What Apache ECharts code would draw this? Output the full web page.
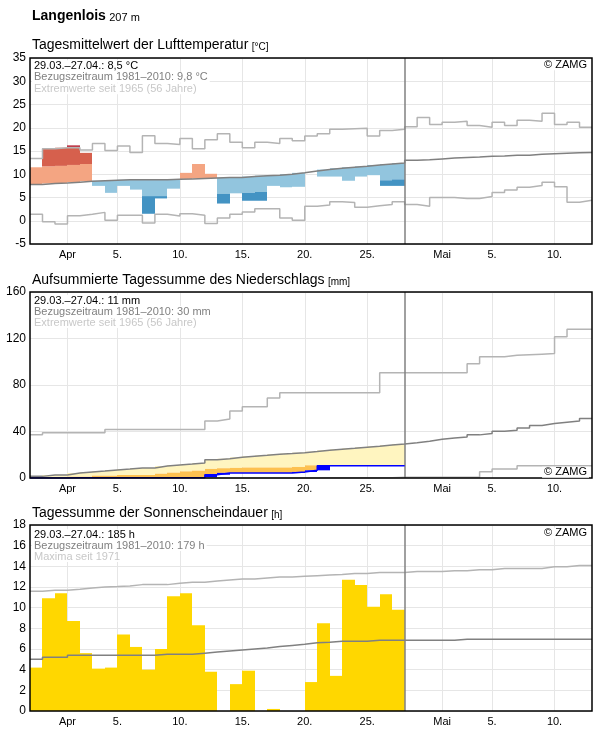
<!DOCTYPE html>
<html><head><meta charset="utf-8">
<script src="https://cdn.jsdelivr.net/npm/echarts@6/dist/echarts.min.js"></script>
<style>html,body{margin:0;padding:0;background:#fff}#c{width:596px;height:729px}</style>
</head><body><div id="c"></div><script>
// ---------- axis / category data ----------
const dayCount = 45;                 // 29.03. – 12.05.
const tickDays = [3, 7, 12, 17, 22, 27, 33, 37, 42];
const tickLabels = ['Apr', '5.', '10.', '15.', '20.', '25.', 'Mai', '5.', '10.'];

// ---------- temperature (°C) ----------
const tempMean = [11.5, 15.5, 15.7, 16.2, 14.6, 7.5, 6.0, 7.5, 6.7, 1.5, 4.8, 6.9, 10.3, 12.2, 10.1,
  3.7, 5.9, 4.3, 4.3, 7.5, 7.2, 7.3, 10.7, 9.5, 9.5, 8.6, 9.5, 9.8, 7.5, 7.5];
const tempRef = [7.8, 8.0, 8.1, 8.3, 8.5, 8.6, 8.7, 8.8, 8.8, 8.8, 8.8, 8.9, 9.0, 9.1, 9.2,
  9.3, 9.3, 9.5, 9.7, 9.8, 10.0, 10.3, 10.7, 11.0, 11.3, 11.5, 11.7, 12.0, 12.2, 12.4,
  13.0, 13.1, 13.3, 13.5, 13.6, 13.7, 13.85, 13.9, 14.1, 14.1, 14.3, 14.4, 14.5, 14.6, 14.7];
const tempMax = [13.4, 15.5, 15.7, 15.7, 15.2, 16.6, 15.1, 16.1, 14.7, 18.3, 16.6, 16.4, 17.7, 15.5, 17.4,
  18.7, 16.9, 15.7, 16.9, 16.6, 17.7, 17.2, 18.2, 18.7, 19.7, 19.8, 19.9, 18.2, 19.4, 19.7,
  20.2, 22.2, 20.7, 21.2, 21.4, 20.5, 20.1, 21.2, 20.5, 21.6, 21.4, 23.1, 20.7, 21.2, 20.1];
const tempMin = [1.4, -0.2, -0.7, 1.1, 1.4, 1.8, 0.1, 1.2, 1.2, -0.5, 1.4, 1.0, 1.5, 1.2, -0.6,
  0.6, 1.4, 1.9, 2.6, 2.6, 0.6, 0.1, 3.1, 3.4, 4.1, 3.9, 2.9, 3.2, 3.5, 4.1,
  3.5, 3.1, 5.0, 5.0, 4.8, 4.8, 5.2, 6.1, 6.6, 7.2, 7.6, 8.3, 7.3, 4.0, 4.4];
const warmLimits = [3.7, 7.6];
const coldLimits = [3.5, 7.5];

// ---------- precipitation (mm, accumulated) ----------
const precipCum = [0, 0, 0, 0.3, 0.3, 0.3, 0.3, 0.3, 0.3, 0.3, 0.3, 0.3, 0.3, 0.3, 2.8,
  4.4, 4.4, 4.4, 4.4, 4.4, 4.4, 5.2, 6.6, 10.6, 10.6, 10.6, 10.6, 10.6, 10.6, 10.6];
const precipClass = [0.8, 0.8, 0.8, 1.1, 1.1, 2.0, 2.0, 2.6, 2.6, 2.6, 3.7, 4.6, 5.7, 6.3, 7.8,
  8.4, 8.7, 9.0, 9.0, 9.0, 9.0, 9.5, 10.9, 10.9, 10.5, 10.5, 10.5, 11.1, 10.5, 11.1];
const precipRef = [1.4, 2.6, 2.6, 4.3, 5.2, 6.0, 6.9, 7.7, 8.6, 8.6, 10.3, 11.2, 12.0, 12.9, 15.8,
  16.6, 17.8, 18.7, 19.5, 20.4, 21.0, 21.8, 22.7, 23.8, 24.7, 25.5, 26.4, 27.3, 28.4, 29.3,
  30.4, 31.6, 33.3, 34.5, 35.3, 37.1, 38.2, 40.2, 41.1, 43.1, 45.1, 46.8, 48.0, 49.1, 51.1];
const precipMax = [37.1, 39.0, 39.0, 39.0, 39.0, 39.0, 41.8, 41.8, 41.8, 41.8, 41.8, 41.8, 41.8, 41.8, 49.1,
  50.8, 57.7, 61.2, 61.2, 68.9, 73.3, 73.3, 73.3, 73.3, 73.3, 73.3, 73.3, 73.3, 90.5, 90.5,
  90.5, 90.5, 90.5, 90.5, 90.5, 98.3, 104.3, 104.3, 105.5, 106.0, 106.5, 107.0, 121.5, 127.9, 127.9];
const precipMin = [0, 0, 0, 0, 0, 0, 0, 0, 0, 0, 0, 0, 0, 0, 0,
  0, 0, 0, 0, 0, 0, 0, 0, 0.3, 0.3, 0.3, 0.3, 0.3, 0.3, 0.6,
  0.6, 0.6, 0.6, 0.6, 0.6, 0.6, 5.4, 7.8, 7.8, 10.6, 10.6, 10.6, 10.6, 10.6, 10.6];

// ---------- sunshine (h) ----------
const sunHours = [4.2, 10.9, 11.4, 8.7, 5.6, 4.1, 4.2, 7.4, 6.2, 4.0, 6.0, 11.1, 11.4, 8.3, 3.8,
  0, 2.6, 3.9, 0, 0.2, 0, 0, 2.8, 8.5, 3.4, 12.7, 12.2, 10.1, 11.3, 9.8];
const sunRef = [5.0, 5.2, 5.2, 5.4, 5.4, 5.4, 5.4, 5.4, 5.4, 5.4, 5.5, 5.5, 5.5, 5.6, 5.7,
  5.8, 5.9, 6.0, 6.1, 6.25, 6.35, 6.45, 6.6, 6.65, 6.75, 6.75, 6.75, 6.85, 6.85, 6.85,
  6.85, 6.85, 6.85, 6.85, 6.95, 6.95, 6.95, 6.95, 6.95, 6.95, 6.95, 6.95, 6.95, 6.95, 6.95];
const sunMax = [11.58, 11.68, 11.68, 11.78, 11.91, 12.0, 12.04, 12.1, 12.23, 12.23, 12.23, 12.36, 12.46, 12.46, 12.58,
  12.68, 12.78, 12.78, 12.88, 12.97, 12.97, 13.05, 13.1, 13.15, 13.2, 13.3, 13.3, 13.4, 13.4, 13.4,
  13.49, 13.49, 13.49, 13.58, 13.58, 13.68, 13.68, 13.78, 13.78, 13.78, 13.78, 13.97, 13.97, 14.07, 14.07];

// ---------- layout / style ----------
const FONT = "'Liberation Sans', Arial, sans-serif";
const GL = 30, GR = 4, GH = 186, GW = 596 - GL - GR;
const tops = [58, 292, 525];
const dataDays = tempMean.length;
const cExt = '#b4b4b4', cRef = '#808080';
const warmColors = ['#f4a582', '#d6604d', '#b2182b'];
const coldColors = ['#92c5de', '#4393c3', '#2166ac'];

const chart = echarts.init(document.getElementById('c'), null, {renderer: 'canvas'});

function steps(arr) {
  return arr.map((v, i) => [i, v]).concat([[arr.length, arr[arr.length - 1]]]);
}
function stepLine(arr, idx, color, width, z, extra) {
  return Object.assign({
    type: 'line', xAxisIndex: idx, yAxisIndex: idx, data: steps(arr), step: 'end',
    showSymbol: false, symbol: 'none', silent: true, animation: false, z: z,
    lineStyle: {color: color, width: width}
  }, extra || {});
}
const divider = {
  silent: true, symbol: ['none', 'none'], label: {show: false}, animation: false,
  lineStyle: {color: cRef, width: 1.5, type: 'solid'}, data: [{xAxis: dataDays}]
};
function rectBetween(api, i, y0, y1, fill) {
  const p0 = api.coord([i, y0]), p1 = api.coord([i + 1, y1]);
  const x0 = Math.round(p0[0]), x1 = Math.round(p1[0]);
  const ya = Math.min(p0[1], p1[1]), yb = Math.max(p0[1], p1[1]);
  return {type: 'rect', shape: {x: x0, y: ya, width: x1 - x0, height: yb - ya}, style: {fill: fill}};
}

function tempRender(params, api) {
  const i = api.value(0), m = api.value(1), r = api.value(2);
  const d = m - r, s = d >= 0 ? 1 : -1;
  const lim = d >= 0 ? warmLimits : coldLimits;
  const cols = d >= 0 ? warmColors : coldColors;
  const children = [];
  let lo = 0;
  for (let k = 0; k < 3; k++) {
    const hi = k < 2 ? lim[k] : Infinity;
    const b = Math.min(Math.abs(d), hi);
    if (b > lo) children.push(rectBetween(api, i, r + s * lo, r + s * b, cols[k]));
    lo = hi;
  }
  return {type: 'group', children: children};
}
function precipRender(params, api) {
  const i = api.value(0), c = api.value(1), r = api.value(2), t = api.value(3), prev = api.value(4);
  const children = [];
  const top = Math.max(c, t);
  if (r > top) children.push(rectBetween(api, i, top, r, '#fff5c0'));
  if (t > c) children.push(rectBetween(api, i, c, t, '#fdc151'));
  if (c > prev) children.push(rectBetween(api, i, prev, c, '#0000ff'));
  return {type: 'group', children: children};
}
function sunRender(params, api) {
  const i = api.value(0), v = api.value(1);
  if (!(v > 0)) return {type: 'group', children: []};
  return rectBetween(api, i, 0, v, '#ffd700');
}

const grids = tops.map(t => ({left: GL, right: GR, top: t, height: GH, show: false}));
const xAxes = tops.map((t, idx) => ({
  type: 'value', gridIndex: idx, min: 0, max: dayCount,
  axisLine: {show: false},
  axisTick: {show: false, customValues: tickDays},
  splitLine: {show: true, lineStyle: {color: '#e6e6e6', width: 1}},
  axisLabel: {
    customValues: tickDays, margin: 5, fontSize: 11, fontFamily: FONT, color: '#000',
    formatter: v => { const k = tickDays.indexOf(Math.round(v)); return k >= 0 ? tickLabels[k] : ''; }
  }
}));
const yDefs = [[-5, 35, 5], [0, 160, 40], [0, 18, 2]];
const yAxes = yDefs.map((d, idx) => ({
  type: 'value', gridIndex: idx, min: d[0], max: d[1], interval: d[2],
  axisLine: {show: false}, axisTick: {show: false},
  splitLine: {show: true, lineStyle: {color: '#e6e6e6', width: 1}},
  axisLabel: {margin: 4, fontSize: 12, fontFamily: FONT, color: '#000'}
}));

const series = [
  // temperature
  {type: 'custom', xAxisIndex: 0, yAxisIndex: 0, renderItem: tempRender, silent: true, animation: false, z: 2,
   encode: {x: 0, y: [1, 2]}, data: tempMean.map((m, i) => [i, m, tempRef[i]])},
  stepLine(tempMax, 0, cExt, 1.5, 3),
  stepLine(tempMin, 0, cExt, 1.5, 3),
  stepLine(tempRef, 0, cRef, 1.5, 4, {markLine: divider}),
  // precipitation
  {type: 'custom', xAxisIndex: 1, yAxisIndex: 1, renderItem: precipRender, silent: true, animation: false, z: 2,
   encode: {x: 0, y: [1, 2]},
   data: precipCum.map((c, i) => [i, c, precipRef[i], precipClass[i], i ? precipCum[i - 1] : 0])},
  stepLine(precipMax, 1, cExt, 1.5, 3),
  stepLine(precipMin, 1, cExt, 1.5, 3),
  stepLine(precipRef, 1, cRef, 1.5, 4, {markLine: divider}),
  stepLine(precipCum, 1, '#0000ff', 1.5, 5),
  // sunshine
  {type: 'custom', xAxisIndex: 2, yAxisIndex: 2, renderItem: sunRender, silent: true, animation: false, z: 2,
   encode: {x: 0, y: 1}, data: sunHours.map((v, i) => [i, v])},
  stepLine(sunMax, 2, cExt, 1.5, 3),
  stepLine(sunRef, 2, cRef, 1.5, 4, {markLine: divider})
];

function text(x, y, str, size, color, align, bg) {
  const st = {text: str, font: size + 'px ' + FONT, fill: color,
    align: align || 'left', verticalAlign: 'middle', textAlign: align || 'left', textVerticalAlign: 'middle'};
  if (bg) { st.backgroundColor = '#fff'; st.padding = [0, 2, 0, 2]; }
  return {type: 'text', x: x, y: y, z: 100, silent: true, style: st};
}
function richText(x, y, str, rich) {
  return {type: 'text', x: x, y: y, z: 100, silent: true,
    style: {text: str, rich: rich, align: 'left', verticalAlign: 'middle', textAlign: 'left', textVerticalAlign: 'middle'}};
}
const titleRich = {
  a: {font: '14px ' + FONT, fill: '#000', verticalAlign: 'bottom', lineHeight: 16},
  b: {font: '10px ' + FONT, fill: '#000', verticalAlign: 'bottom', lineHeight: 15}
};
const annot = [
  ['29.03.–27.04.: 8,5 °C', 'Bezugszeitraum 1981–2010: 9,8 °C', 'Extremwerte seit 1965 (56 Jahre)'],
  ['29.03.–27.04.: 11 mm', 'Bezugszeitraum 1981–2010: 30 mm', 'Extremwerte seit 1965 (56 Jahre)'],
  ['29.03.–27.04.: 185 h', 'Bezugszeitraum 1981–2010: 179 h', 'Maxima seit 1971']
];
const annotY = [[65.8, 77.2, 88.8], [300.5, 311.5, 322.5], [534.8, 545.5, 556.5]];
const annotCol = ['#000', '#808080', '#c8c8c8'];
const titles = [
  ['Tagesmittelwert der Lufttemperatur', '[°C]', 44],
  ['Aufsummierte Tagessumme des Niederschlags', '[mm]', 279],
  ['Tagessumme der Sonnenscheindauer', '[h]', 512]
];
const zamgY = [64.8, 472.2, 533.2];

const graphics = [];
graphics.push(richText(32, 15, '{a|Langenlois} {b|207 m}', {
  a: {font: 'bold 14px ' + FONT, fill: '#000', verticalAlign: 'bottom', lineHeight: 16},
  b: {font: '11px ' + FONT, fill: '#000', verticalAlign: 'bottom', lineHeight: 15}
}));
titles.forEach(t => graphics.push(richText(32, t[2], '{a|' + t[0] + '} {b|' + t[1] + '}', titleRich)));
annot.forEach((lines, p) => lines.forEach((s, k) => graphics.push(text(32, annotY[p][k], s, 11, annotCol[k], 'left', true))));
zamgY.forEach(y => graphics.push(text(589, y, '© ZAMG', 11, '#000', 'right', true)));
tops.forEach(t => graphics.push({type: 'rect', z: 90, silent: true,
  shape: {x: GL, y: t, width: GW, height: GH}, style: {fill: null, stroke: '#000', lineWidth: 1.5}}));

chart.setOption({
  animation: false,
  backgroundColor: '#fff',
  grid: grids, xAxis: xAxes, yAxis: yAxes, series: series,
  graphic: {elements: graphics}
});
</script></body></html>
